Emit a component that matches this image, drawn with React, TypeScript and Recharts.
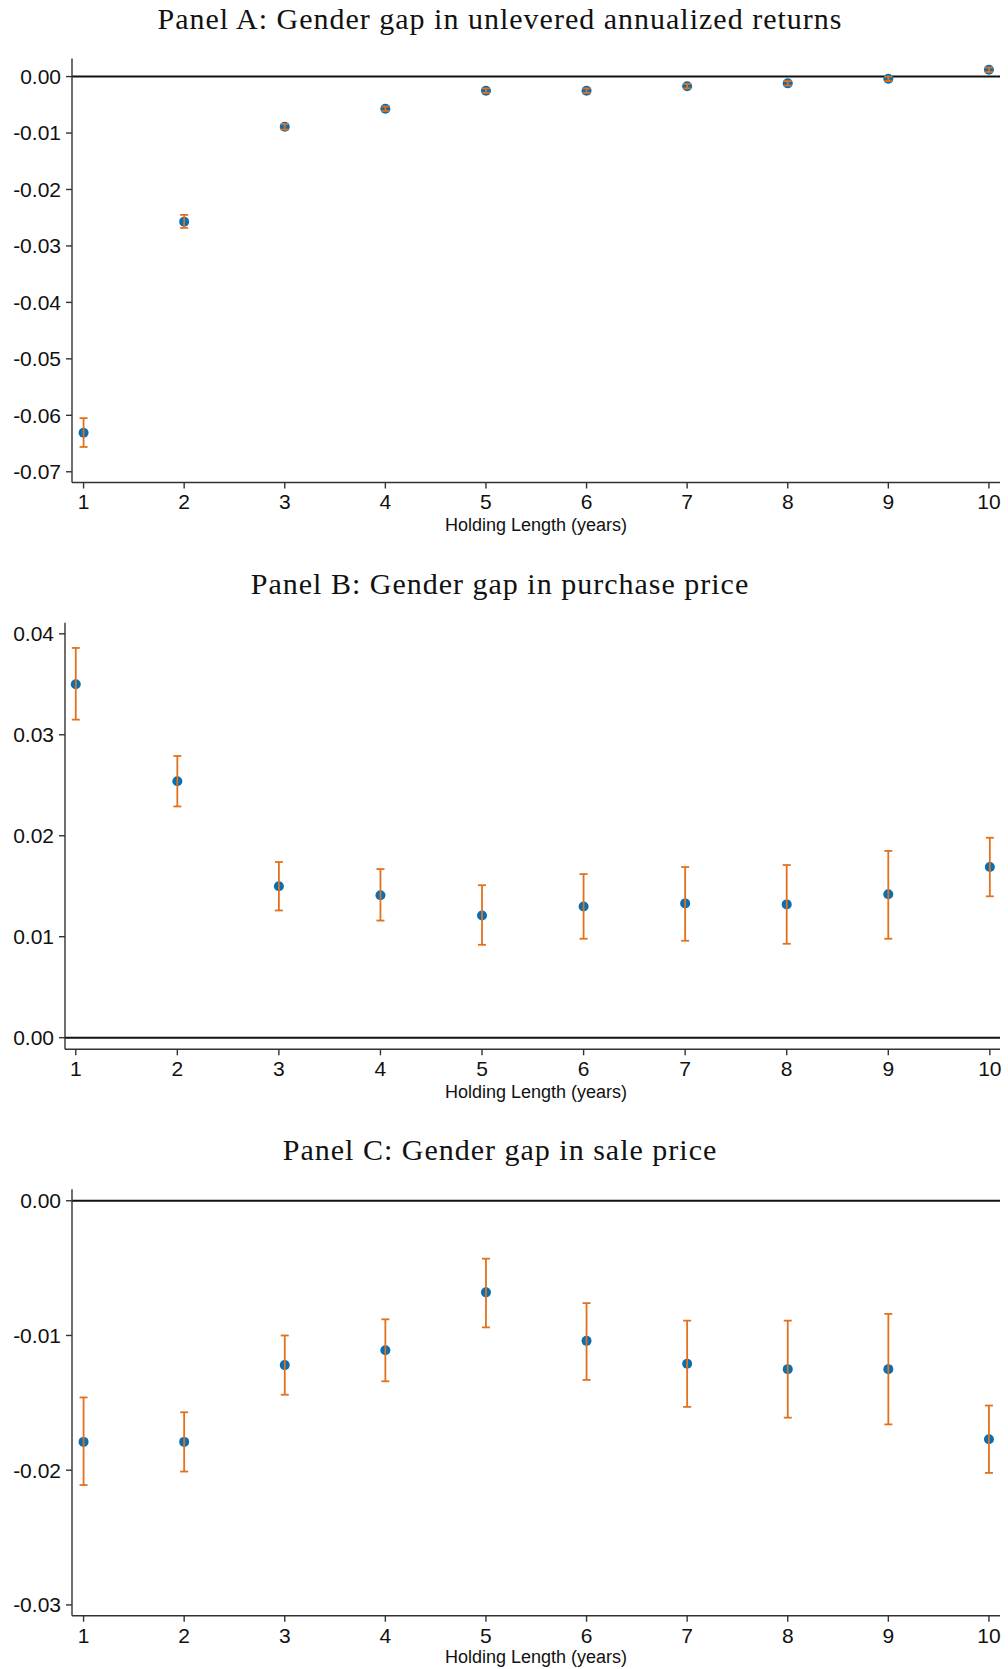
import React from "react";
import {
  ScatterChart, Scatter, XAxis, YAxis, ErrorBar, ReferenceLine,
} from "recharts";

// holding length in years
const years = [1, 2, 3, 4, 5, 6, 7, 8, 9, 10];

// Panel A: unlevered annualized returns
const returnGap = [-0.0631, -0.0257, -0.0089, -0.0057, -0.0025, -0.0025, -0.0017, -0.0012, -0.0004, 0.0012];
const returnLo = [-0.0656, -0.0268, -0.0094, -0.0061, -0.0029, -0.0029, -0.0021, -0.0016, -0.0008, 0.0008];
const returnHi = [-0.0605, -0.0245, -0.0084, -0.0053, -0.0021, -0.0021, -0.0013, -0.0008, 0.0000, 0.0016];

// Panel B: purchase price
const purchaseGap = [0.0350, 0.0254, 0.0150, 0.0141, 0.0121, 0.0130, 0.0133, 0.0132, 0.0142, 0.0169];
const purchaseLo = [0.0315, 0.0229, 0.0126, 0.0116, 0.0092, 0.0098, 0.0096, 0.0093, 0.0098, 0.0140];
const purchaseHi = [0.0386, 0.0279, 0.0174, 0.0167, 0.0151, 0.0162, 0.0169, 0.0171, 0.0185, 0.0198];

// Panel C: sale price
const saleGap = [-0.0179, -0.0179, -0.0122, -0.0111, -0.0068, -0.0104, -0.0121, -0.0125, -0.0125, -0.0177];
const saleLo = [-0.0211, -0.0201, -0.0144, -0.0134, -0.0094, -0.0133, -0.0153, -0.0161, -0.0166, -0.0202];
const saleHi = [-0.0146, -0.0157, -0.0100, -0.0088, -0.0043, -0.0076, -0.0089, -0.0089, -0.0084, -0.0152];

const ticksA = [0, -0.01, -0.02, -0.03, -0.04, -0.05, -0.06, -0.07];
const ticksB = [0, 0.01, 0.02, 0.03, 0.04];
const ticksC = [0, -0.01, -0.02, -0.03];

const BLUE = "#0a6fb0";
const ORANGE = "#e2711d";
const AXIS = "#333";
const SANS = "'Liberation Sans', Arial, sans-serif";
const SERIF = "'Liberation Serif', 'DejaVu Serif', serif";

interface PanelProps {
  title: string;
  values: number[];
  lo: number[];
  hi: number[];
  yTicks: number[];
  yDomain: [number, number];
  xDomain: [number, number];
  top: number;
  height: number;
  plotTop: number;
  plotBottom: number;
  axisWidth: number;
  titleY: number;
  labelY: number;
}

const Dot = (p: any) => <circle cx={p.cx} cy={p.cy} r={5} fill={BLUE} />;
const Nothing = () => <g />;

function Panel(props: PanelProps) {
  const { title, values, lo, hi, yTicks, yDomain, xDomain, top, height, plotTop, plotBottom, axisWidth, titleY, labelY } = props;
  const rows = years.map((x, i) => ({ x, y: values[i], err: [values[i] - lo[i], hi[i] - values[i]] }));
  const xAxisH = 40;
  const tickStyle = { fontSize: 21, fill: "#111", fontFamily: SANS };

  return (
    <>
      <div style={{
        position: "absolute", left: 0, width: 1000, top: titleY - 20, height: 40, lineHeight: "40px",
        textAlign: "center", fontFamily: SERIF, fontSize: 30, letterSpacing: 1, color: "#111",
      }}>{title}</div>
      <div style={{ position: "absolute", left: 0, top }}>
        <ScatterChart
          width={1008}
          height={height}
          margin={{ top: plotTop - top, right: 8, left: 0, bottom: height - (plotBottom - top) - xAxisH }}
        >
          <XAxis
            type="number" dataKey="x" domain={xDomain} ticks={years} allowDataOverflow
            height={xAxisH} tickSize={6} tickMargin={6} stroke={AXIS} strokeWidth={1.4}
            tick={tickStyle} interval={0}
          />
          <YAxis
            type="number" dataKey="y" domain={yDomain} ticks={yTicks} allowDataOverflow
            width={axisWidth} tickSize={6} tickMargin={5} stroke={AXIS} strokeWidth={1.4}
            tick={tickStyle} interval={0} tickFormatter={(v: number) => v.toFixed(2)}
          />
          <ReferenceLine y={0} stroke="#111" strokeWidth={2} />
          <Scatter data={rows} shape={Dot} isAnimationActive={false} />
          <Scatter data={rows} shape={Nothing} isAnimationActive={false} zIndex={900}>
            <ErrorBar dataKey="err" direction="y" width={4} stroke={ORANGE} strokeWidth={1.8} zIndex={1000} />
          </Scatter>
        </ScatterChart>
      </div>
      <div style={{
        position: "absolute", left: 336, width: 400, top: labelY - 11, height: 22, lineHeight: "22px",
        textAlign: "center", fontFamily: SANS, fontSize: 18, color: "#111",
      }}>Holding Length (years)</div>
    </>
  );
}

export default function App() {
  return (
    <div style={{ position: "absolute", left: 0, top: 0, width: 1008, height: 1669, background: "#fff" }}>
      <Panel
        title="Panel A: Gender gap in unlevered annualized returns"
        values={returnGap} lo={returnLo} hi={returnHi}
        yTicks={ticksA} yDomain={[-0.0719, 0.0032]} xDomain={[0.885, 10.11]}
        top={0} height={545} plotTop={58.5} plotBottom={482.5} axisWidth={72}
        titleY={19} labelY={525}
      />
      <Panel
        title="Panel B: Gender gap in purchase price"
        values={purchaseGap} lo={purchaseLo} hi={purchaseHi}
        yTicks={ticksB} yDomain={[-0.00115, 0.0411]} xDomain={[0.894, 10.1]}
        top={560} height={550} plotTop={622.7} plotBottom={1049.3} axisWidth={65}
        titleY={584} labelY={1092}
      />
      <Panel
        title="Panel C: Gender gap in sale price"
        values={saleGap} lo={saleLo} hi={saleHi}
        yTicks={ticksC} yDomain={[-0.0308, 0.00085]} xDomain={[0.885, 10.11]}
        top={1120} height={549} plotTop={1189.3} plotBottom={1615.7} axisWidth={72}
        titleY={1150} labelY={1657}
      />
    </div>
  );
}
